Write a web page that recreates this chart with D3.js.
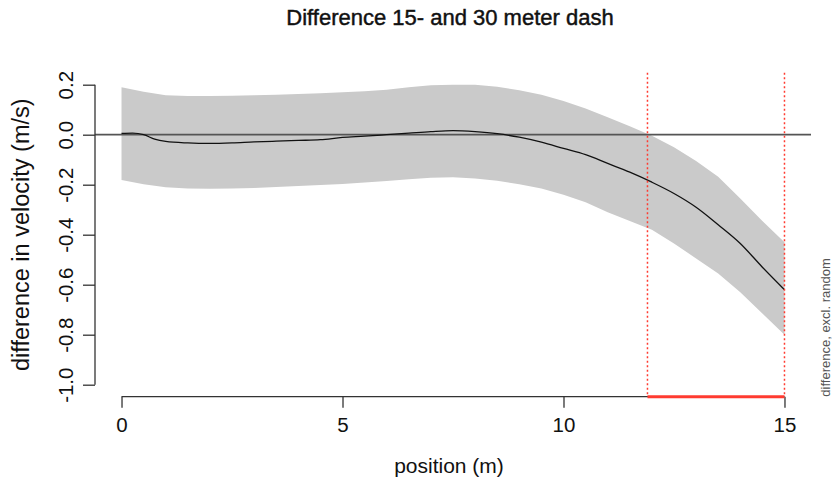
<!DOCTYPE html>
<html>
<head>
<meta charset="utf-8">
<script src="https://cdn.jsdelivr.net/npm/d3@7"></script>
<style>
  html, body { margin: 0; padding: 0; background: #fff; }
  svg text { font-family: "Liberation Sans", Arial, Helvetica, sans-serif; }
</style>
</head>
<body>
<svg id="chart" width="834" height="477"></svg>
<script>
// ---- data ----
const bandX = [0,0.5,1,1.5,2,2.5,3,3.5,4,4.5,5,5.5,6,6.5,7,7.5,8,8.5,9,9.5,10,10.5,11,11.5,12,12.5,13,13.5,14,14.5,15];
const upper = [0.19,0.172,0.158,0.155,0.155,0.156,0.158,0.16,0.163,0.166,0.170,0.174,0.180,0.19,0.198,0.2,0.2,0.192,0.178,0.16,0.135,0.105,0.07,0.034,-0.004,-0.05,-0.105,-0.168,-0.255,-0.345,-0.43];
const lower = [-0.181,-0.198,-0.21,-0.215,-0.216,-0.215,-0.213,-0.209,-0.205,-0.201,-0.197,-0.191,-0.185,-0.178,-0.172,-0.170,-0.175,-0.184,-0.198,-0.215,-0.24,-0.27,-0.31,-0.345,-0.38,-0.435,-0.495,-0.555,-0.63,-0.715,-0.80];
const meanX = [0,0.25,0.5,0.75,1,1.5,2,2.5,3,3.5,4,4.5,5,5.5,6,6.5,7,7.5,8,8.5,9,9.5,10,10.5,11,11.5,12,12.5,13,13.5,14,14.5,15];
const meanY = [0.005,0.006,0.0,-0.018,-0.027,-0.033,-0.035,-0.033,-0.029,-0.026,-0.023,-0.02,-0.011,-0.006,0.0,0.006,0.012,0.016,0.012,0.004,-0.01,-0.03,-0.055,-0.08,-0.115,-0.15,-0.19,-0.235,-0.29,-0.36,-0.435,-0.53,-0.62];
const xTicks = [0,5,10,15];
const yTicks = [0.2,0.0,-0.2,-0.4,-0.6,-0.8,-1.0];
const regionStart = 11.9, regionEnd = 15;
const titleText = "Difference 15- and 30 meter dash";
const xLabel = "position (m)";
const yLabel = "difference in velocity (m/s)";
const sideText = "difference, excl. random";

// ---- layout ----
const svg = d3.select("#chart");
const x = d3.scaleLinear().domain([-0.6, 15.6]).range([95, 811]);
const y = d3.scaleLinear().domain([-1.048, 0.248]).range([396.7, 72.7]);
const plotBottom = y(-1.048), plotTop = y(0.248);
const fmtY = d => d3.format(".1f")(d).replace("\u2212", "-");

// band
const band = bandX.map((v,i)=>({x:v, hi:upper[i], lo:lower[i]}));
svg.append("path")
  .datum(band)
  .attr("fill", "#cacaca")
  .attr("stroke", "none")
  .attr("d", d3.area().x(d=>x(d.x)).y0(d=>y(d.lo)).y1(d=>y(d.hi)));

// zero line
svg.append("line")
  .attr("x1", x(-0.6)).attr("x2", x(15.6))
  .attr("y1", y(0)).attr("y2", y(0))
  .attr("stroke", "#555").attr("stroke-width", 1.7);

// mean line
svg.append("path")
  .datum(meanX.map((v,i)=>[v, meanY[i]]))
  .attr("fill", "none")
  .attr("stroke", "#111")
  .attr("stroke-width", 1.3)
  .attr("d", d3.line().curve(d3.curveMonotoneX).x(d=>x(d[0])).y(d=>y(d[1])));

// dotted red verticals
[regionStart, regionEnd].forEach(v => {
  svg.append("line")
    .attr("x1", x(v)).attr("x2", x(v))
    .attr("y1", plotTop).attr("y2", plotBottom)
    .attr("stroke", "#ff3b30").attr("stroke-width", 1.5)
    .attr("stroke-dasharray", "2,2.5");
});

// x axis
const gx = svg.append("g").attr("transform", `translate(0,${plotBottom})`)
  .call(d3.axisBottom(x).tickValues(xTicks).tickSize(11).tickPadding(10).tickFormat(d3.format("d")));
gx.select(".domain").attr("d", `M${x(0)},0H${x(15)}`).attr("stroke", "#333").attr("stroke-width", 1.3);
gx.selectAll(".tick line").attr("stroke", "#333").attr("stroke-width", 1.3);
gx.selectAll(".tick text").attr("font-size", 20.5).attr("fill", "#111")
  .attr("font-family", '"Liberation Sans", Arial, sans-serif');

// red segment
svg.append("line")
  .attr("x1", x(regionStart)).attr("x2", x(regionEnd))
  .attr("y1", plotBottom).attr("y2", plotBottom)
  .attr("stroke", "#ff3b30").attr("stroke-width", 3);

// y axis
const gy = svg.append("g").attr("transform", `translate(${x(-0.6)},0)`)
  .call(d3.axisLeft(y).tickValues(yTicks).tickSize(12).tickFormat(fmtY));
gy.select(".domain").attr("d", `M0,${y(0.2)}V${y(-1.0)}`).attr("stroke", "#333").attr("stroke-width", 1.3);
gy.selectAll(".tick line").attr("stroke", "#333").attr("stroke-width", 1.3);
gy.selectAll(".tick text")
  .attr("font-size", 20.5).attr("fill", "#111")
  .attr("font-family", '"Liberation Sans", Arial, sans-serif')
  .attr("x", null)
  .attr("text-anchor", "middle")
  .attr("transform", "translate(-29,0) rotate(-90)")
  .attr("y", 0)
  .attr("dy", "0.36em");

// title
svg.append("text")
  .attr("x", 450).attr("y", 25)
  .attr("text-anchor", "middle")
  .attr("font-size", 22).attr("fill", "#111")
  .attr("stroke", "#111").attr("stroke-width", 0.45)
  .text(titleText);

// x label
svg.append("text")
  .attr("x", 449).attr("y", 473)
  .attr("text-anchor", "middle")
  .attr("font-size", 21).attr("fill", "#111")
  .text(xLabel);

// y label
svg.append("text")
  .attr("transform", `translate(29,${(plotTop+plotBottom)/2}) rotate(-90)`)
  .attr("text-anchor", "middle")
  .attr("font-size", 23.5).attr("fill", "#111")
  .text(yLabel);

// side text
svg.append("text")
  .attr("transform", `translate(830,${plotBottom}) rotate(-90)`)
  .attr("text-anchor", "start")
  .attr("font-size", 13).attr("fill", "#555")
  .text(sideText);
</script>
</body>
</html>
